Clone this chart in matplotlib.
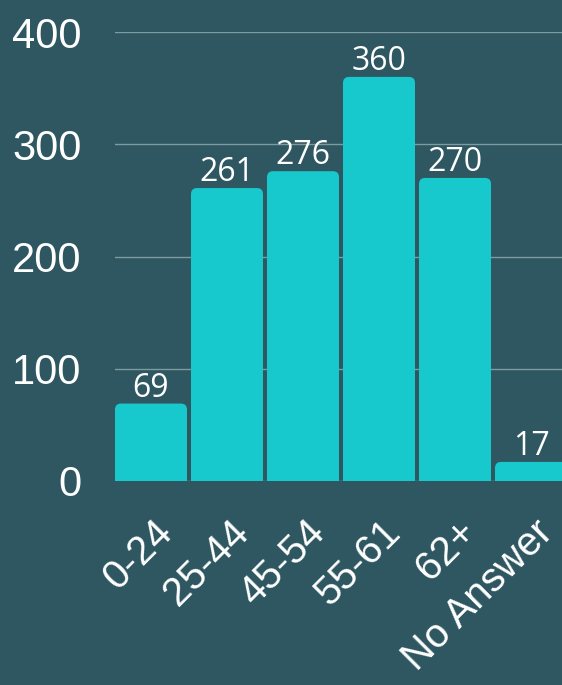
import numpy as np
import matplotlib.pyplot as plt
import matplotlib.transforms as mtransforms
from matplotlib.patches import FancyBboxPatch

# age groups and counts
categories = ['0-24', '25-44', '45-54', '55-61', '62+', 'No Answer']
counts = [69, 261, 276, 360, 270, 17]
yticks = [0, 100, 200, 300, 400]

bg = '#2e5761'
bar_color = '#17c8cc'
grid_color = '#7d9ca2'

fig = plt.figure(figsize=(5.62, 6.85), dpi=100, facecolor=bg)
ax = fig.add_axes([115/562, 204/685, 447/562, 449/685], facecolor=bg)

x = np.arange(len(categories))
w = 72/76
ax.set_xlim(-w/2, -w/2 + 447/76)
ax.set_ylim(0, 400)

# rounded tops: box starts below zero so the bottom is clipped square
r = 0.08
for xi, v in zip(x, counts):
    p = FancyBboxPatch((xi - w/2, -20), w, v + 20,
                       boxstyle='round,pad=0,rounding_size=%f' % r,
                       mutation_aspect=(6/1.1225)/r,
                       fc=bar_color, ec='none', zorder=2)
    ax.add_patch(p)
    ax.annotate(str(v), (xi, v), xytext=(0, 5), textcoords='offset points',
                ha='center', va='baseline', color='white', fontsize=23,
                family='Open Sans', zorder=3)

ax.set_yticks(yticks)
ax.set_yticklabels([str(t) for t in yticks], fontsize=30, family='Liberation Sans', color='white')
ax.yaxis.grid(True, color=grid_color, lw=1)
ax.set_axisbelow(True)
ax.tick_params(axis='y', length=0, pad=24)

ax.set_xticks(x)
ax.set_xticklabels(categories, rotation=45, ha='right', va='top', rotation_mode='anchor',
                   fontsize=29, family='Liberation Sans', color='white')
ax.tick_params(axis='x', length=0, pad=28)
off = mtransforms.ScaledTranslation(2/100, 7/100, fig.dpi_scale_trans)
for lbl in ax.get_xticklabels():
    lbl.set_transform(lbl.get_transform() + off)

for s in ax.spines.values():
    s.set_visible(False)

fig.savefig('out.png', dpi=100, facecolor=bg)
